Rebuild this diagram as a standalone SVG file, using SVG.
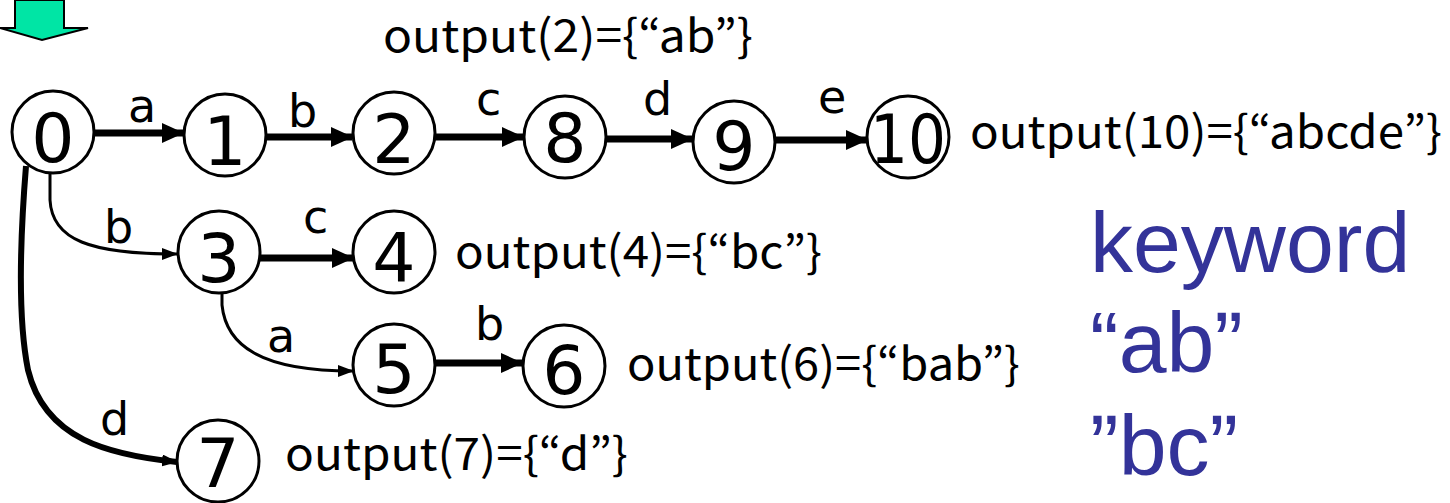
<svg xmlns="http://www.w3.org/2000/svg" width="1450" height="503" viewBox="0 0 1450 503">
<style>
.node circle{fill:#fff;stroke:#000;stroke-width:3}
.node text{font-family:"DejaVu Sans",sans-serif;font-size:68px;text-anchor:middle;fill:#000}
.lbl{font-family:"DejaVu Sans",sans-serif;font-size:46px;fill:#000}
.out{font-family:"Noto Sans CJK JP",sans-serif;font-size:45px;fill:#000}
.kw{font-family:"Liberation Sans",Arial,sans-serif;font-size:86px;fill:#333399}
.thick{stroke:#000;stroke-width:7;fill:none}
.thin{stroke:#000;stroke-width:3;fill:none}
</style>
<defs>
<marker id="ah" markerUnits="userSpaceOnUse" markerWidth="22" markerHeight="20" viewBox="0 0 22 20" refX="21" refY="10" orient="auto">
<path d="M0,0 L22,10 L0,20 Z" fill="#000"/>
</marker>
<marker id="as" markerUnits="userSpaceOnUse" markerWidth="16" markerHeight="12" viewBox="0 0 16 12" refX="15" refY="6" orient="auto">
<path d="M0,0 L16,6 L0,12 Z" fill="#000"/>
</marker>
</defs>
<g id="start-arrow">
<path d="M15,0 L64,0 L64,28 L88,28 L42,40 L0,28 L15,28 Z" fill="#00E5A5" stroke="#000" stroke-width="2"/>
</g>
<g id="connectors">
<line class="thick" x1="95" y1="133" x2="183" y2="133" marker-end="url(#ah)"/>
<line class="thick" x1="267" y1="137" x2="352" y2="137" marker-end="url(#ah)"/>
<line class="thick" x1="435" y1="137" x2="523" y2="137" marker-end="url(#ah)"/>
<line class="thick" x1="606" y1="139" x2="692" y2="139" marker-end="url(#ah)"/>
<line class="thick" x1="776" y1="140" x2="867" y2="140" marker-end="url(#ah)"/>
<line class="thick" x1="260" y1="258" x2="353" y2="258" marker-end="url(#ah)"/>
<line class="thick" x1="435" y1="363" x2="522" y2="363" marker-end="url(#ah)"/>
<path class="thin" d="M50,172 L50,200 C52,240 90,254 177,254" marker-end="url(#as)"/>
<path class="thin" d="M222,293 L222,305 C226,345 260,371 353,371" marker-end="url(#as)"/>
<path class="thick" d="M26,166 C20,240 18,320 28,370 C45,440 110,455 177,462" marker-end="url(#as)" style="stroke-width:6"/>
<text class="lbl" x="128" y="122">a</text>
<text class="lbl" x="288" y="127">b</text>
<text class="lbl" x="476" y="115">c</text>
<text class="lbl" x="643" y="115">d</text>
<text class="lbl" x="818" y="113">e</text>
<text class="lbl" x="104" y="243">b</text>
<text class="lbl" x="303" y="233">c</text>
<text class="lbl" x="267" y="352">a</text>
<text class="lbl" x="475" y="340">b</text>
<text class="lbl" x="100" y="435">d</text>
</g>
<g id="n0" class="node"><circle cx="53" cy="132" r="41"/><text x="53" y="162">0</text></g>
<g id="n1" class="node"><circle cx="225" cy="135" r="41"/><text x="225" y="165">1</text></g>
<g id="n2" class="node"><circle cx="394" cy="133" r="41"/><text x="394" y="163">2</text></g>
<g id="n8" class="node"><circle cx="565" cy="137" r="41"/><text x="565" y="162">8</text></g>
<g id="n9" class="node"><circle cx="734" cy="142" r="41"/><text x="734" y="170">9</text></g>
<g id="n10" class="node"><circle cx="908" cy="137" r="41"/><text x="908" y="163" textLength="76" lengthAdjust="spacingAndGlyphs">10</text></g>
<g id="n3" class="node"><circle cx="219" cy="252" r="41"/><text x="219" y="282">3</text></g>
<g id="n4" class="node"><circle cx="394" cy="252" r="41"/><text x="394" y="282">4</text></g>
<g id="n5" class="node"><circle cx="394" cy="365" r="41"/><text x="394" y="393">5</text></g>
<g id="n6" class="node"><circle cx="564" cy="366" r="41"/><text x="564" y="394">6</text></g>
<g id="n7" class="node"><circle cx="218" cy="461" r="41"/><text x="218" y="487">7</text></g>
<g id="outputs">
<text class="out" x="383" y="52" textLength="370" lengthAdjust="spacingAndGlyphs">output(2)={“ab”}</text>
<text class="out" x="970" y="148" textLength="472" lengthAdjust="spacingAndGlyphs">output(10)={“abcde”}</text>
<text class="out" x="455" y="268" textLength="367" lengthAdjust="spacingAndGlyphs">output(4)={“bc”}</text>
<text class="out" x="627" y="380" textLength="393" lengthAdjust="spacingAndGlyphs">output(6)={“bab”}</text>
<text class="out" x="285" y="470" textLength="343" lengthAdjust="spacingAndGlyphs">output(7)={“d”}</text>
</g>
<g id="keywords">
<text class="kw" x="1090" y="272">keyword</text>
<text class="kw" x="1090" y="372">“ab”</text>
<text class="kw" x="1090" y="475">”bc”</text>
</g>
</svg>
